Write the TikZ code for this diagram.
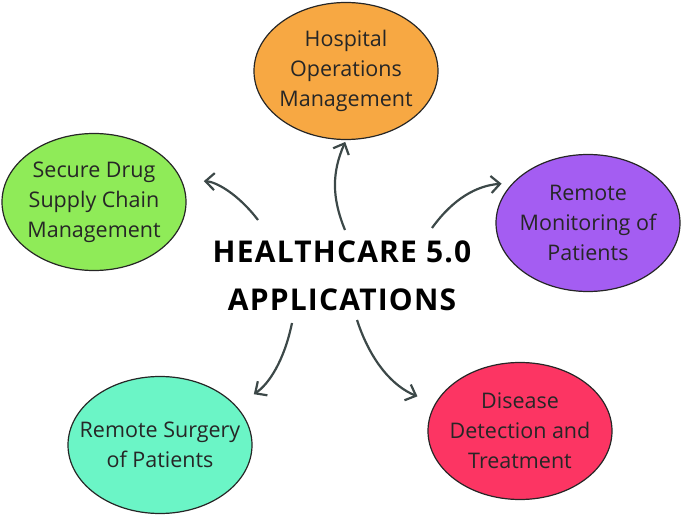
\documentclass[tikz,border=0pt]{standalone}
\usepackage{fontspec}
\setmainfont{Open Sans}
\usetikzlibrary{shapes.geometric,arrows.meta}
\definecolor{hospOrange}{HTML}{F7A843}
\definecolor{drugGreen}{HTML}{8FEB58}
\definecolor{monitPurple}{HTML}{A45DF2}
\definecolor{surgTeal}{HTML}{6BF5C6}
\definecolor{disRed}{HTML}{FC3563}
\definecolor{arrowGray}{HTML}{3C4848}

\begin{document}
\begin{tikzpicture}
      [x=1pt,y=-1pt,
       every node/.style={align=center,font=\fontsize{21.5}{30}\selectfont},
       app/.style={ellipse,draw=black!85,line width=1.2pt,inner sep=-20pt,
                   minimum width=184pt,minimum height=137pt,text=black!85},
       heading/.style={font=\fontsize{30}{48}\selectfont\bfseries\addfontfeature{LetterSpace=4}},
       link/.style={draw=arrowGray,line width=2.2pt,
                    -{Straight Barb[length=9pt,width=17pt]}}]
      \useasboundingbox (0,0) rectangle (685,518);

      \node[heading] (title) at (342,276) {HEALTHCARE 5.0\\APPLICATIONS};
      \node[app,fill=hospOrange] (hosp) at (346,71) {Hospital\\Operations\\Management};
      \node[app,fill=drugGreen] (drug) at (94,202) {Secure Drug\\Supply Chain\\Management};
      \node[app,fill=monitPurple] (monit) at (588,223) {Remote\\Monitoring of\\Patients};
      \node[app,fill=surgTeal] (surg) at (160,445) {Remote Surgery\\of Patients};
      \node[app,fill=disRed] (dis) at (520,431) {Disease\\Detection and\\Treatment};

      \coordinate (s1) at (345,230);
      \coordinate (s2) at (258,220);
      \coordinate (s3) at (432,228);
      \coordinate (s4) at (292,323);
      \coordinate (s5) at (357,320);

      \foreach \from/\to/\bend/\gap in {s1/hosp.south/23/2, s2/drug.14/-25/22,
                                        s3/monit.152/25/11, s4/surg.27/22/21, s5/dis.162/-25/19}
      \draw [link,shorten >=\gap pt] (\from) to[bend left=\bend] (\to);
    \end{tikzpicture}
\end{document}
